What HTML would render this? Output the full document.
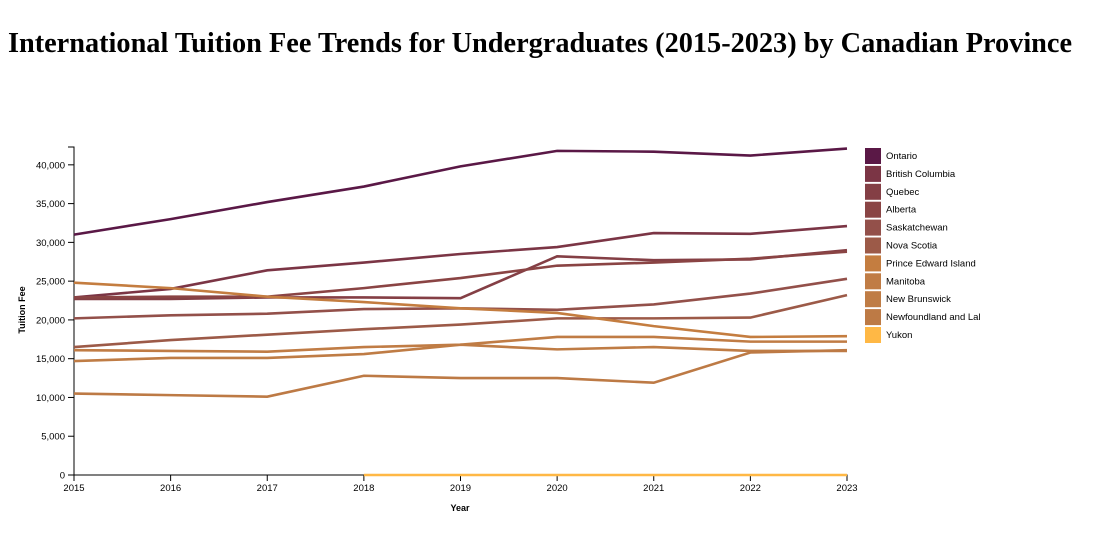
<!DOCTYPE html>
<html><head><meta charset="utf-8"><style>
body{margin:0;background:#fff;width:1093px;height:530px;overflow:hidden}
svg text{font-family:"Liberation Sans",Arial,sans-serif}
</style></head><body>
<svg width="1093" height="530">
<text x="540" y="52" text-anchor="middle" style="font-family:'Liberation Serif',serif" font-weight="bold" font-size="28.3">International Tuition Fee Trends for Undergraduates (2015-2023) by Canadian Province</text>
<g id="axes"></g><g id="lines"></g><g id="legend"></g>
<text x="460" y="511" text-anchor="middle" font-size="9" font-weight="bold">Year</text>
<text transform="translate(25,310) rotate(-90)" text-anchor="middle" font-size="9" font-weight="bold">Tuition Fee</text>
</svg>
<script>
const years=[2015,2016,2017,2018,2019,2020,2021,2022,2023];
const provinces=["Ontario","British Columbia","Quebec","Alberta","Saskatchewan","Nova Scotia","Prince Edward Island","Manitoba","New Brunswick","Newfoundland and Lal","Yukon"];
const colors=["#5a1846","#7b3545","#843f45","#8a4444","#93504a","#9c5a48","#c47d40","#c07c45","#bf7c45","#bd7a45","#ffb845"];
const ontario=[31000,33000,35200,37200,39800,41800,41700,41200,42100];
const bc=[22900,24000,26400,27400,28500,29400,31200,31100,32100];
const quebec=[22700,22700,22900,22900,22800,28200,27700,27800,29000];
const alberta=[22900,23000,23000,24100,25400,27000,27400,27900,28800];
const sask=[20200,20600,20800,21400,21500,21300,22000,23400,25300];
const novaScotia=[16500,17400,18100,18800,19400,20200,20200,20300,23200];
const pei=[24800,24100,23000,22300,21500,20900,19200,17800,17900];
const manitoba=[16100,16000,15900,16500,16800,17800,17800,17200,17200];
const newBrunswick=[14700,15100,15100,15600,16800,16200,16500,16000,16000];
const newfoundland=[10500,10300,10100,12800,12500,12500,11900,15800,16100];
const yukon=[null,null,null,0,0,0,0,0,0];
const series=[ontario,bc,quebec,alberta,sask,novaScotia,pei,manitoba,newBrunswick,newfoundland,yukon];
const yTicks=[0,5000,10000,15000,20000,25000,30000,35000,40000];
const NS="http://www.w3.org/2000/svg";
const x0=74,x1=847,yb=475,yt=147,ymax=42300;
const xs=y=>x0+(y-years[0])/(years[years.length-1]-years[0])*(x1-x0);
const ys=v=>yb-v/ymax*(yb-yt);
function mk(t,a,p){const e=document.createElementNS(NS,t);for(const k in a)e.setAttribute(k,a[k]);p.appendChild(e);return e;}
const ax=document.getElementById('axes');
const yAxis=mk('path',{d:`M68,${yt}H74V${yb}H68`,fill:'none',stroke:'#000'},ax);


const xAxis=mk('path',{d:`M${x0},${yb+6}V${yb}H${x1}V${yb+6}`,fill:'none',stroke:'#000'},ax);


yTicks.forEach(v=>{const y=ys(v);mk('line',{x1:68,x2:74,y1:y,y2:y,stroke:'#000'},ax);
const t=mk('text',{x:65,y:y+3.5,'text-anchor':'end','font-size':'9.5'},ax);t.textContent=v.toLocaleString('en-US');

});
years.forEach(yr=>{const x=xs(yr);mk('line',{x1:x,x2:x,y1:yb,y2:yb+6,stroke:'#000'},ax);
const t=mk('text',{x:x,y:yb+16,'text-anchor':'middle','font-size':'9.5'},ax);t.textContent=yr;

});
const lg=document.getElementById('lines');
series.forEach((s,i)=>{let d='';let started=false;s.forEach((v,j)=>{if(v===null){started=false;return;}d+=(started?'L':'M')+xs(years[j])+','+ys(v);started=true;});
const p=mk('path',{d:d,fill:'none',stroke:colors[i],'stroke-width':2.6},lg);

});
const leg=document.getElementById('legend');
provinces.forEach((n,i)=>{const y=148+i*17.9;
const g=mk('g',{},leg);


mk('rect',{x:865,y:y,width:16,height:16,fill:colors[i]},g);
const t=mk('text',{x:886,y:y+11,'font-size':'9.5'},g);t.textContent=n;});
</script>
</body></html>
